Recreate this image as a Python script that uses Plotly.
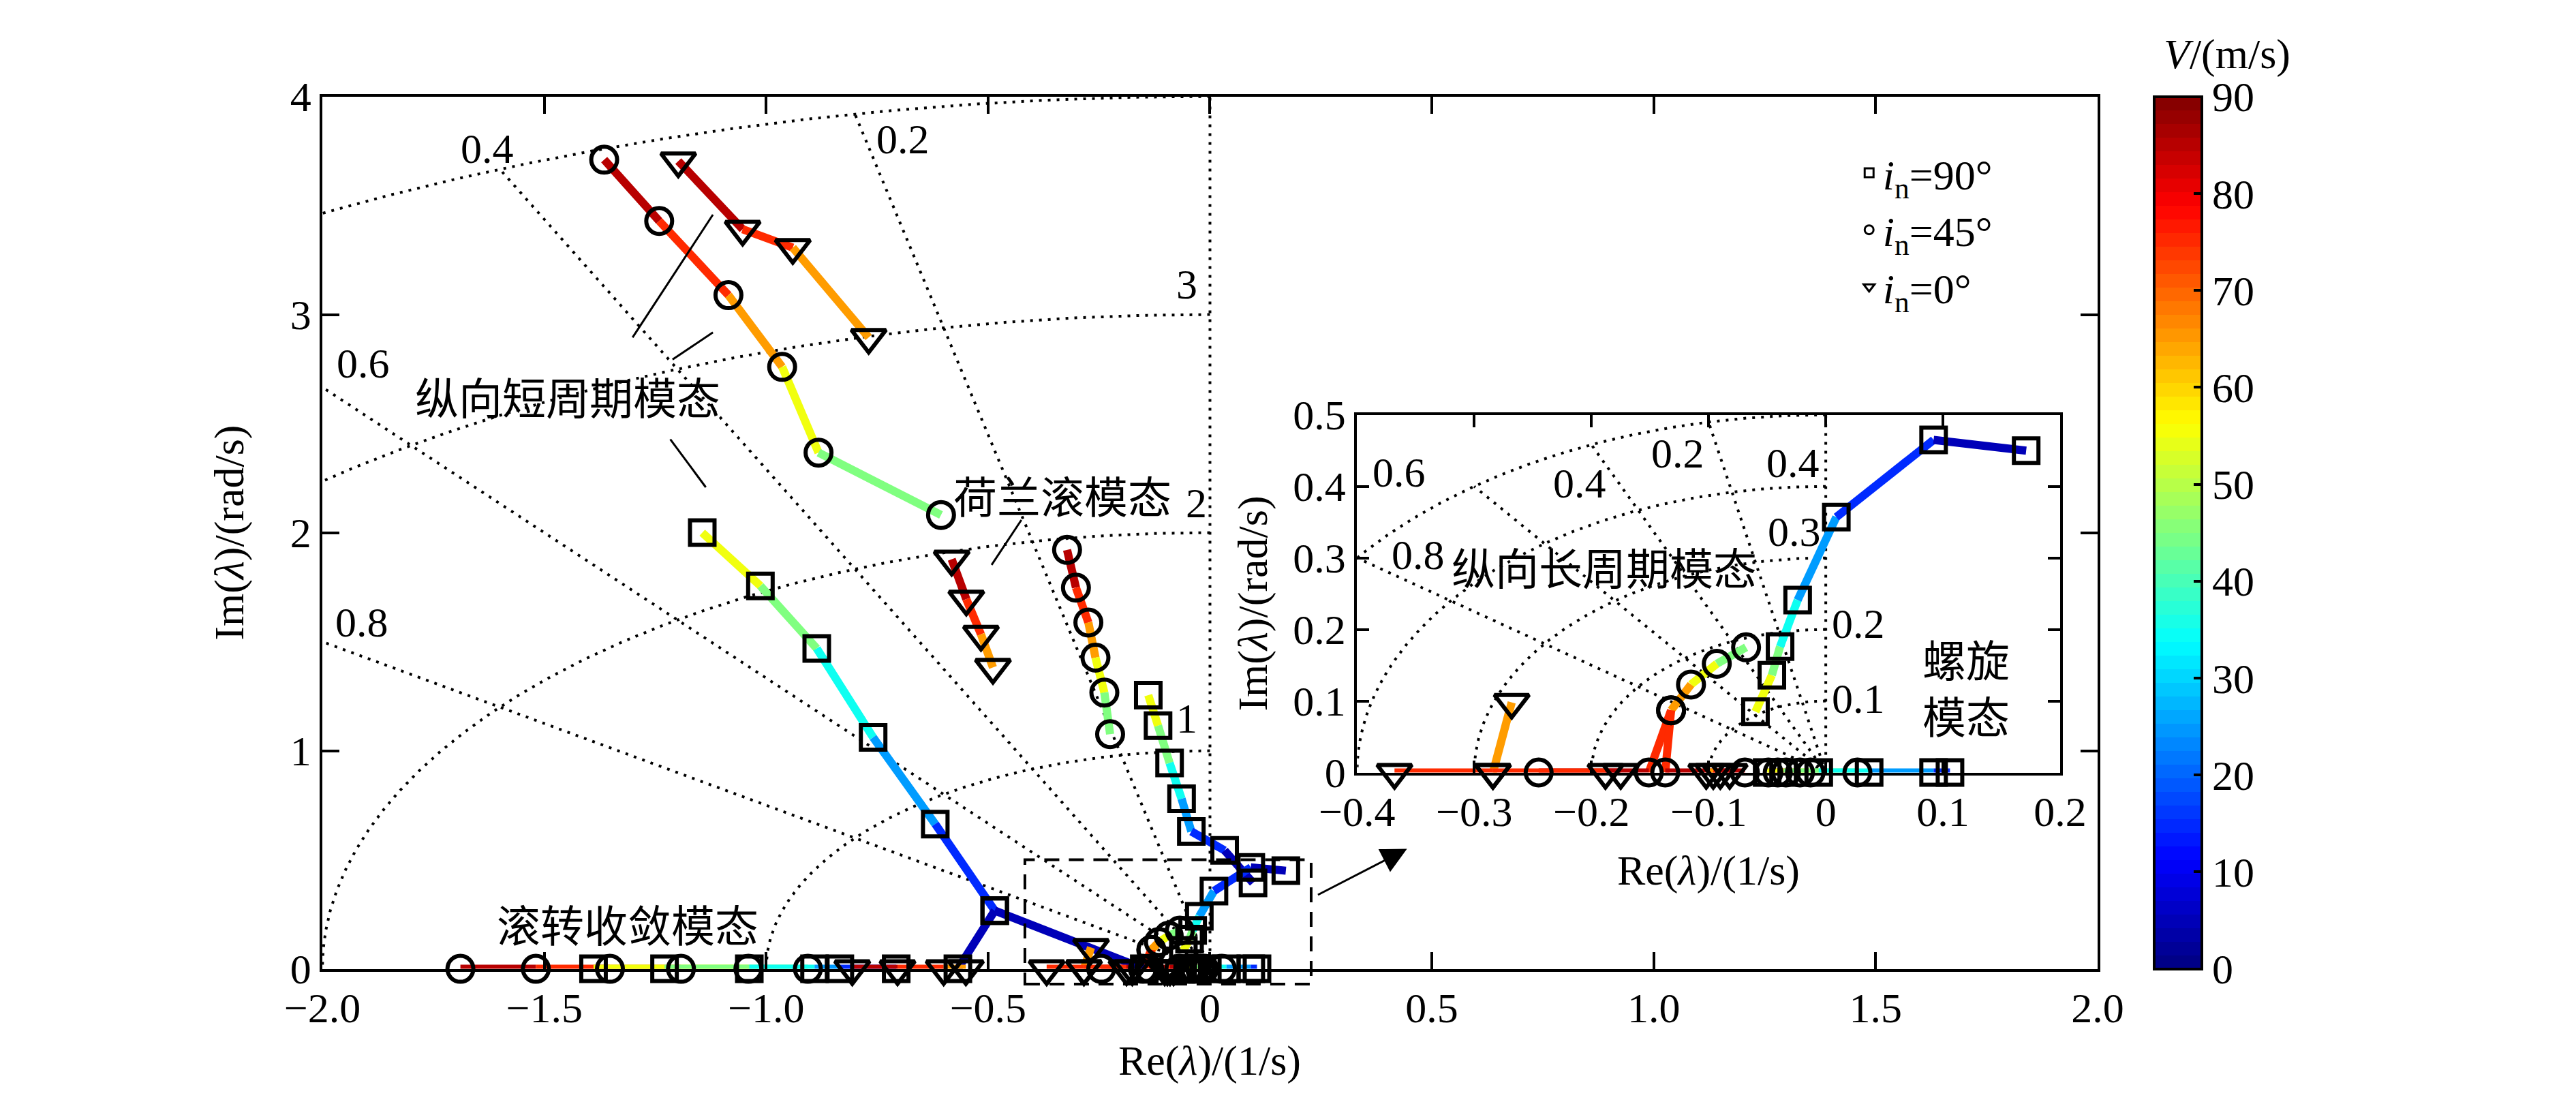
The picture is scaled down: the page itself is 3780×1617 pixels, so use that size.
import numpy as np
import plotly.graph_objects as go

# ---- eigenvalue data (V in m/s, Re in 1/s, Im in rad/s) ----
# i_n = 45 deg (circles)
v45_sp = [90, 80, 70, 60, 50, 40]
re45_sp = [-1.365, -1.241, -1.085, -0.964, -0.882, -0.606]
im45_sp = [3.710, 3.429, 3.089, 2.760, 2.367, 2.081]
v45_dr = [90, 80, 70, 60, 50, 40]
re45_dr = [-0.322, -0.302, -0.274, -0.258, -0.238, -0.225]
im45_dr = [1.921, 1.748, 1.588, 1.427, 1.267, 1.076]
v45_roll = [90, 80, 70, 60, 50, 40]
re45_roll = [-1.689, -1.519, -1.352, -1.192, -1.040, -0.906]
im45_roll = [0, 0, 0, 0, 0, 0]
v45_spiral = [90, 80, 70, 60, 50, 40]
re45_spiral = [-0.049, -0.041, -0.034, -0.022, -0.013, 0.027]
im45_spiral = [0, 0, 0, 0, 0, 0]
v45_ph_a = [40, 50, 60, 70, 80, 90]
re45_ph_a = [-0.068, -0.093, -0.115, -0.132, -0.151, -0.245]
im45_ph_a = [0.175, 0.152, 0.123, 0.087, 0, 0]
v45_ph_b = [70, 80, 90]
re45_ph_b = [-0.132, -0.137, -0.069]
im45_ph_b = [0.087, 0, 0]

# i_n = 90 deg (squares)
v90_sp = [60, 50, 40, 30, 20, 10, 0]
re90_sp = [-1.144, -1.013, -0.886, -0.759, -0.619, -0.485, -0.568]
im90_sp = [2.000, 1.756, 1.469, 1.061, 0.664, 0.267, 0]
v90_sp_b = [10, 0]
re90_sp_b = [-0.485, -0.148]
im90_sp_b = [0.267, 0]
v90_dr = [60, 50, 40, 30, 20, 10, 0]
re90_dr = [-0.139, -0.117, -0.091, -0.064, -0.042, 0.033, 0.097]
im90_dr = [1.255, 1.115, 0.944, 0.780, 0.630, 0.543, 0.394]
v90_roll = [60, 50, 40, 30, 20, 10]
re90_roll = [-1.389, -1.229, -1.038, -0.891, -0.834, -0.707]
im90_roll = [0, 0, 0, 0, 0, 0]
v90_spiral = [60, 50, 40, 30, 20, 10]
re90_spiral = [-0.050, -0.036, -0.006, 0.037, 0.092, 0.106]
im90_spiral = [0, 0, 0, 0, 0, 0]
v90_ph = [60, 50, 40, 30, 20, 10, 0]
re90_ph = [-0.060, -0.046, -0.039, -0.024, 0.009, 0.092, 0.171]
im90_ph = [0.085, 0.136, 0.176, 0.241, 0.357, 0.465, 0.450]

# i_n = 0 deg (triangles)
v0_sp = [90, 80, 70, 60]
re0_sp = [-1.198, -1.053, -0.940, -0.769]
im0_sp = [3.704, 3.391, 3.307, 2.895]
v0_dr = [90, 80, 70, 60]
re0_dr = [-0.582, -0.549, -0.516, -0.489]
im0_dr = [1.878, 1.695, 1.534, 1.382]
v0_roll = [90, 80, 70, 60]
re0_roll = [-0.806, -0.704, -0.600, -0.550]
im0_roll = [0, 0, 0, 0]
v0_spiral = [60, 70, 80, 90]
re0_spiral = [-0.102, -0.096, -0.090, -0.082]
im0_spiral = [0, 0, 0, 0]
v0_ph_a = [60, 70, 80]
re0_ph_a = [-0.268, -0.284, -0.368]
im0_ph_a = [0.098, 0, 0]
v0_ph_b = [70, 80, 90]
re0_ph_b = [-0.284, -0.188, -0.175]
im0_ph_b = [0, 0, 0]

x_ticks = [-2, -1.5, -1, -0.5, 0, 0.5, 1, 1.5, 2]
x_ticktext = ["−2.0", "−1.5", "−1.0", "−0.5", "0", "0.5", "1.0", "1.5", "2.0"]
y_ticks = [0, 1, 2, 3, 4]
ix_ticks = [-0.4, -0.3, -0.2, -0.1, 0, 0.1, 0.2]
ix_ticktext = ["−0.4", "−0.3", "−0.2", "−0.1", "0", "0.1", "0.2"]
iy_ticks = [0, 0.1, 0.2, 0.3, 0.4, 0.5]
iy_ticktext = ["0", "0.1", "0.2", "0.3", "0.4", "0.5"]
cbar_ticks = [0, 10, 20, 30, 40, 50, 60, 70, 80, 90]
zetas = [0.2, 0.4, 0.6, 0.8]
omegas_main = [1, 2, 3, 4]
omegas_inset = [0.1, 0.2, 0.3, 0.4, 0.5]

VMAX = 90
SERIF = "Liberation Serif"
CJK = "Noto Sans CJK SC"
FS = 62


def jet(v):
    t = v / VMAX
    r = min(max(1.5 - abs(4 * t - 3), 0), 1)
    g = min(max(1.5 - abs(4 * t - 2), 0), 1)
    b = min(max(1.5 - abs(4 * t - 1), 0), 1)
    return "rgb(%d,%d,%d)" % (round(255 * r), round(255 * g), round(255 * b))


# stepped 64 level jet like matlab
jet_scale = []
for k in range(64):
    c = jet((k + 0.5) / 64 * VMAX)
    jet_scale.append([k / 64, c])
    jet_scale.append([(k + 1) / 64, c])

SYM = {"sq": ("square-open", 36), "ci": ("circle-open", 38), "tr": ("triangle-down-open", 44)}

# (symbol, V, Re, Im, also in inset)
series = [
    ("ci", v45_sp, re45_sp, im45_sp, False),
    ("ci", v45_dr, re45_dr, im45_dr, False),
    ("ci", v45_roll, re45_roll, im45_roll, False),
    ("ci", v45_spiral, re45_spiral, im45_spiral, True),
    ("ci", v45_ph_a, re45_ph_a, im45_ph_a, True),
    ("ci", v45_ph_b, re45_ph_b, im45_ph_b, True),
    ("sq", v90_sp, re90_sp, im90_sp, False),
    ("sq", v90_sp_b, re90_sp_b, im90_sp_b, False),
    ("sq", v90_dr, re90_dr, im90_dr, False),
    ("sq", v90_roll, re90_roll, im90_roll, False),
    ("sq", v90_spiral, re90_spiral, im90_spiral, True),
    ("sq", v90_ph, re90_ph, im90_ph, True),
    ("tr", v0_sp, re0_sp, im0_sp, False),
    ("tr", v0_dr, re0_dr, im0_dr, False),
    ("tr", v0_roll, re0_roll, im0_roll, False),
    ("tr", v0_spiral, re0_spiral, im0_spiral, True),
    ("tr", v0_ph_a, re0_ph_a, im0_ph_a, True),
    ("tr", v0_ph_b, re0_ph_b, im0_ph_b, True),
]

fig = go.Figure()

GRID = dict(color="black", width=4, dash="4px,9px")


def add_grid(xa, ya, omegas, rmax):
    th = np.linspace(np.pi / 2, np.pi, 300)
    for w in omegas:
        fig.add_trace(go.Scatter(x=w * np.cos(th), y=w * np.sin(th), mode="lines", line=GRID,
                                 xaxis=xa, yaxis=ya, showlegend=False, hoverinfo="skip"))
    for z in zetas:
        fig.add_trace(go.Scatter(x=[0, -rmax * z], y=[0, rmax * np.sqrt(1 - z * z)], mode="lines",
                                 line=GRID, xaxis=xa, yaxis=ya, showlegend=False, hoverinfo="skip"))
    fig.add_trace(go.Scatter(x=[0, 0], y=[0, rmax], mode="lines", line=GRID,
                             xaxis=xa, yaxis=ya, showlegend=False, hoverinfo="skip"))


add_grid("x", "y", omegas_main, 4)
add_grid("x2", "y2", omegas_inset, 0.5)


def add_lines(xa, ya, inset):
    for sym, v, re, im, ins in series:
        if inset and not ins:
            continue
        for i in range(len(v) - 1):
            fig.add_trace(go.Scatter(
                x=re[i:i + 2], y=im[i:i + 2], mode="lines",
                line=dict(color=jet((v[i] + v[i + 1]) / 2), width=12),
                xaxis=xa, yaxis=ya, showlegend=False, hoverinfo="skip", cliponaxis=False))


def add_markers(xa, ya, inset):
    for sym, v, re, im, ins in series:
        if inset and not ins:
            continue
        s, size = SYM[sym]
        fig.add_trace(go.Scatter(
            x=re, y=im, mode="markers",
            marker=dict(symbol=s, size=size, color="black", line=dict(width=6, color="black")),
            xaxis=xa, yaxis=ya, showlegend=False, cliponaxis=False,
            customdata=v, hovertemplate="V=%{customdata}<extra></extra>"))


add_lines("x", "y", False)
add_markers("x", "y", False)
add_lines("x2", "y2", True)
add_markers("x2", "y2", True)

# legend entries
for name, sym, sz in [("<i>i</i><sub>n</sub>=90°", "sq", 13), ("<i>i</i><sub>n</sub>=45°", "ci", 13),
                      ("<i>i</i><sub>n</sub>=0°", "tr", 14)]:
    fig.add_trace(go.Scatter(x=[None], y=[None], mode="markers", name=name,
                             marker=dict(symbol=SYM[sym][0], size=sz, color="black",
                                         line=dict(width=3, color="black"))))

# colour bar
fig.add_trace(go.Scatter(
    x=[None], y=[None], mode="markers", showlegend=False, hoverinfo="skip",
    marker=dict(color=[0], cmin=0, cmax=VMAX, colorscale=jet_scale, showscale=True,
                colorbar=dict(x=0.8405, xanchor="left", y=0.1087, yanchor="bottom",
                              len=0.8264, lenmode="fraction", thickness=70, thicknessmode="pixels",
                              xpad=0, ypad=0, outlinewidth=4, outlinecolor="black",
                              ticks="inside", ticklen=14, tickwidth=4, tickcolor="black",
                              tickvals=cbar_ticks, tickfont=dict(family=SERIF, size=FS, color="black")))))

axis_common = dict(showline=True, linewidth=4, linecolor="black", mirror="ticks", ticks="inside",
                   tickwidth=4, tickcolor="black", showgrid=False, zeroline=False,
                   tickfont=dict(family=SERIF, size=FS, color="black"))

fig.update_layout(
    width=3780, height=1617,
    margin=dict(l=0, r=0, t=0, b=0),
    paper_bgcolor="white", plot_bgcolor="white",
    font=dict(family=SERIF, size=FS, color="black"),
    xaxis=dict(domain=[0.1110, 0.8179], range=[-2, 2], tickvals=x_ticks, ticktext=x_ticktext,
               ticklen=25, anchor="y", **axis_common),
    yaxis=dict(domain=[0.1087, 0.9351], range=[0, 4], tickvals=y_ticks, ticklen=25, anchor="x",
               **axis_common),
    xaxis2=dict(domain=[0.523, 0.803], range=[-0.4, 0.2], tickvals=ix_ticks, ticktext=ix_ticktext,
                ticklen=18, anchor="y2", **axis_common),
    yaxis2=dict(domain=[0.2947, 0.6335], range=[0, 0.5], tickvals=iy_ticks, ticktext=iy_ticktext,
                ticklen=18, anchor="x2", **axis_common),
    showlegend=True,
    legend=dict(x=0.7215, y=0.893, xanchor="left", yanchor="top", bgcolor="rgba(0,0,0,0)",
                font=dict(family=SERIF, size=FS, color="black"), itemwidth=30, tracegroupgap=0),
)


def note(text, x, y, xref="x", yref="y", size=FS, family=SERIF, angle=0):
    fig.add_annotation(text=text, x=x, y=y, xref=xref, yref=yref, showarrow=False,
                       font=dict(family=family, size=size, color="black"), textangle=angle,
                       xanchor="center", yanchor="middle")


# grid labels (main)
note("4", -0.03, 4.10)
note("3", -0.052, 3.14)
note("2", -0.03, 2.137)
note("1", -0.052, 1.15)
note("0.2", -0.692, 3.806)
note("0.4", -1.628, 3.76)
note("0.6", -1.908, 2.776)
note("0.8", -1.911, 1.588)
# grid labels (inset)
note("0.1", 0.028, 0.103, "x2", "y2")
note("0.2", 0.028, 0.208, "x2", "y2")
note("0.3", -0.027, 0.337, "x2", "y2")
note("0.4", -0.028, 0.433, "x2", "y2")
note("0.5", -0.028, 0.545, "x2", "y2")
note("0.2", -0.126, 0.446, "x2", "y2")
note("0.4", -0.21, 0.404, "x2", "y2")
note("0.6", -0.364, 0.42, "x2", "y2")
note("0.8", -0.348, 0.304, "x2", "y2")

# mode labels
note("纵向短周期模态", -1.448, 2.631, family=CJK, size=64)
note("荷兰滚模态", -0.332, 2.177, family=CJK, size=64)
note("滚转收敛模态", -1.312, 0.21, family=CJK, size=64)
note("纵向长周期模态", -0.189, 0.289, "x2", "y2", family=CJK, size=64)
note("螺旋<br>模态", 0.12, 0.121, "x2", "y2", family=CJK, size=64)

# axis titles
note("Im(<i>λ</i>)/(rad/s)", 0.0737, 0.5216, "paper", "paper", angle=-90)
note("Re(<i>λ</i>)/(1/s)", 0.4644, 0.0217, "paper", "paper")
note("Im(<i>λ</i>)/(rad/s)", 0.4815, 0.455, "paper", "paper", angle=-90)
note("Re(<i>λ</i>)/(1/s)", 0.663, 0.2017, "paper", "paper")
note("<i>V</i>/(m/s)", 0.8695, 0.975, "paper", "paper")

# leader lines
for x0, y0, x1, y1 in [(-1.120, 3.458, -1.301, 2.895), (-1.120, 2.918, -1.211, 2.794),
                       (-1.216, 2.428, -1.136, 2.208), (-0.425, 2.058, -0.492, 1.852)]:
    fig.add_shape(type="line", x0=x0, y0=y0, x1=x1, y1=y1, xref="x", yref="y",
                  line=dict(color="black", width=3))

# dashed zoom box and arrow
fig.add_shape(type="rect", x0=(-0.417 + 2) / 4, x1=(0.228 + 2) / 4, y0=-0.07 / 4, y1=0.5 / 4,
              xref="x domain", yref="y domain", line=dict(color="black", width=4, dash="22px,14px"))
fig.add_annotation(x=0.444, y=0.55, ax=0.241, ay=0.337, xref="x", yref="y", axref="x", ayref="y",
                   text="", showarrow=True, arrowhead=2, arrowsize=2.5, arrowwidth=3, arrowcolor="black")

fig.write_html("out.html")
